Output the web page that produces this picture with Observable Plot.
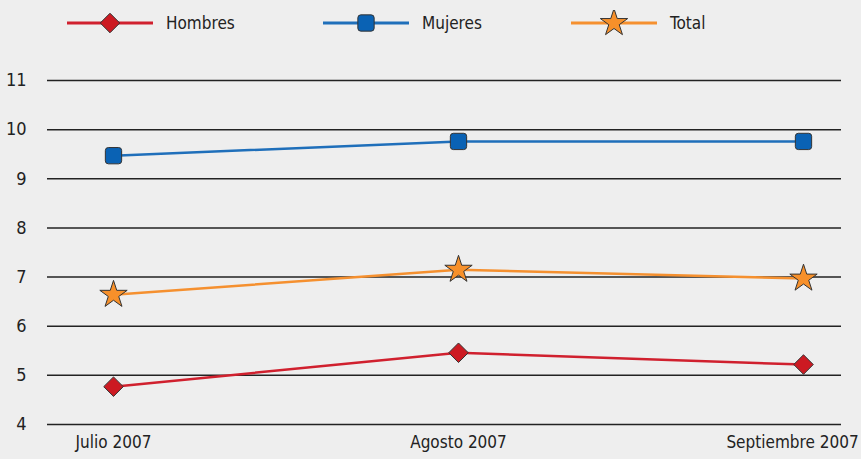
<!DOCTYPE html>
<html>
<head>
<meta charset="utf-8">
<script src="https://cdn.jsdelivr.net/npm/d3@7"></script>
<script src="https://cdn.jsdelivr.net/npm/@observablehq/plot@0.6"></script>
<style>
  html, body { margin: 0; padding: 0; background: #eeeeee; }
  body { width: 861px; height: 459px; overflow: hidden; font-family: "Liberation Sans Narrow", "DejaVu Sans Condensed", "Roboto", sans-serif; color: #222; }
  #legend { position: relative; height: 45px; }
  .item { position: absolute; top: 10px; display: flex; align-items: center; font-size: 17px; }
  .item svg { display: block; }
  .item span { margin-left: 13px; }
  #chart svg { display: block; }
</style>
</head>
<body>
<div id="legend"></div>
<div id="chart"></div>
<script>
const months = ["Julio 2007", "Agosto 2007", "Septiembre 2007"];
const hombres = [4.77, 5.46, 5.22];
const mujeres = [9.47, 9.76, 9.76];
const total = [6.64, 7.15, 6.97];
const yTicks = [4, 5, 6, 7, 8, 9, 10, 11];
const seriesNames = ["Hombres", "Mujeres", "Total"];

const lineColors = {Hombres: "#d0202e", Mujeres: "#1f6fba", Total: "#f5902f"};
const fillColors = {Hombres: "#cc1a22", Mujeres: "#0a62b4", Total: "#f7902a"};

// rounded square symbol
const roundedSquare = {
  draw(context, size) {
    const h = Math.sqrt(size) / 2, r = 3;
    context.moveTo(-h + r, -h);
    context.lineTo(h - r, -h);
    context.arcTo(h, -h, h, -h + r, r);
    context.lineTo(h, h - r);
    context.arcTo(h, h, h - r, h, r);
    context.lineTo(-h + r, h);
    context.arcTo(-h, h, -h, h - r, r);
    context.lineTo(-h, -h + r);
    context.arcTo(-h, -h, -h + r, -h, r);
    context.closePath();
  }
};
const symbols = {Hombres: d3.symbolDiamond2, Mujeres: roundedSquare, Total: d3.symbolStar};
const radii = {Hombres: 8.8, Mujeres: 9.2, Total: 8.6};

const seriesValues = {Hombres: hombres, Mujeres: mujeres, Total: total};
const data = [];
for (const name of ["Mujeres", "Total", "Hombres"]) {
  seriesValues[name].forEach((v, i) => data.push({serie: name, mes: months[i], valor: v}));
}

// Legend
const legend = document.getElementById("legend");
const legendLeft = {Hombres: 67, Mujeres: 323, Total: 571};
for (const name of seriesNames) {
  const item = document.createElement("div");
  item.className = "item";
  item.style.left = legendLeft[name] + "px";
  const size = Math.PI * radii[name] * radii[name];
  const path = d3.symbol(symbols[name], size)();
  item.innerHTML = `<svg width="86" height="26"><line x1="0" x2="86" y1="13" y2="13" stroke="${lineColors[name]}" stroke-width="3"/><path d="${path}" transform="translate(43,13)" fill="${fillColors[name]}" stroke="#333" stroke-width="1"/></svg><span>${name}</span>`;
  legend.appendChild(item);
}

const fontFamily = '"Liberation Sans Narrow", "DejaVu Sans Condensed", "Roboto", sans-serif';

const chart = Plot.plot({
  width: 861,
  height: 414,
  marginTop: 35,
  marginBottom: 35,
  marginLeft: 47,
  marginRight: 20,
  style: {background: "transparent", fontFamily, fontSize: "17px", color: "#222"},
  x: {type: "point", domain: months, range: [113, 803], padding: 0, label: null},
  y: {domain: [4, 11], label: null},
  marks: [
    Plot.ruleY(yTicks, {stroke: "#222", strokeWidth: 1.5}),
    Plot.axisY({ticks: yTicks, tickFormat: d => String(d), tickSize: 0, tickPadding: 21, fontSize: 18, fill: "#222", label: null}),
    Plot.axisX({ticks: months.slice(0, 2), tickSize: 0, tickPadding: 11, fontSize: 17, fill: "#222", label: null}),
    Plot.axisX({ticks: months.slice(2), tickSize: 0, tickPadding: 11, fontSize: 17, fill: "#222", dx: -11, label: null}),
    Plot.line(data, {x: "mes", y: "valor", z: "serie", stroke: d => lineColors[d.serie], strokeWidth: 2.5}),
    ...["Mujeres", "Total", "Hombres"].map(name =>
      Plot.dot(data.filter(d => d.serie === name), {
        x: "mes", y: "valor", symbol: symbols[name], r: radii[name],
        fill: fillColors[name], stroke: "#333", strokeWidth: 1
      })
    )
  ]
});
document.getElementById("chart").appendChild(chart);
</script>
</body>
</html>
